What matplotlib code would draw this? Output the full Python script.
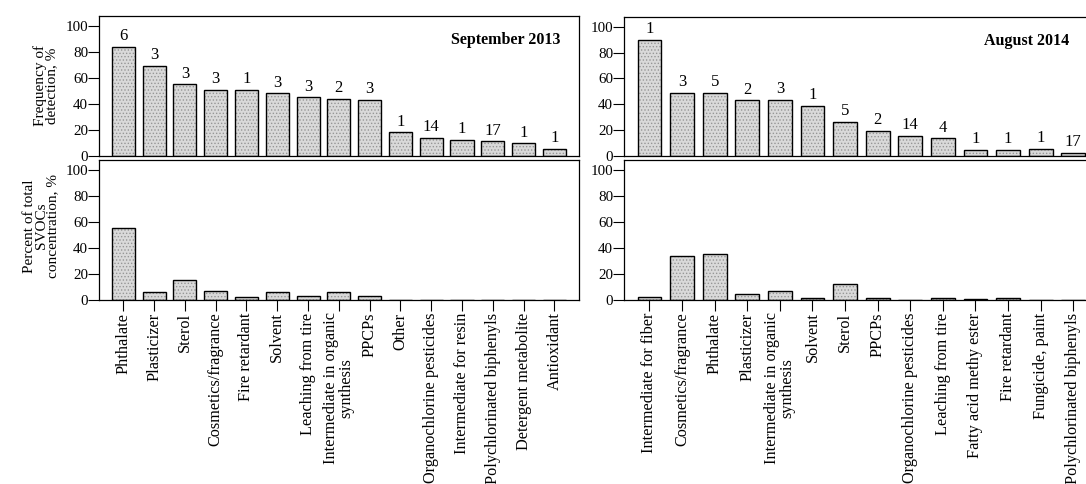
import matplotlib.pyplot as plt
import numpy as np

plt.rcParams['font.family'] = ['Liberation Serif', 'DejaVu Serif']
plt.rcParams['hatch.linewidth'] = 0.6

# September 2013
sep_cats = ['Phthalate', 'Plasticizer', 'Sterol', 'Cosmetics/fragrance', 'Fire retardant',
            'Solvent', 'Leaching from tire', 'Intermediate in organic\nsynthesis', 'PPCPs',
            'Other', 'Organochlorine pesticides', 'Intermediate for resin',
            'Polychlorinated biphenyls', 'Detergent metabolite', 'Antioxidant']
sep_freq = [84, 69, 55, 51, 51, 48, 45, 44, 43, 18, 13.5, 12, 11, 9.5, 5]
sep_n = ['6', '3', '3', '3', '1', '3', '3', '2', '3', '1', '14', '1', '17', '1', '1']
sep_pct = [55.3, 6, 15.5, 7, 2.3, 6, 2.8, 6, 2.8, 0.2, 0.2, 0.2, 0.2, 0.2, 0.2]

# August 2014
aug_cats = ['Intermediate for fiber', 'Cosmetics/fragrance', 'Phthalate', 'Plasticizer',
            'Intermediate in organic\nsynthesis', 'Solvent', 'Sterol', 'PPCPs',
            'Organochlorine pesticides', 'Leaching from tire', 'Fatty acid methy ester',
            'Fire retardant', 'Fungicide, paint', 'Polychlorinated biphenyls']
aug_freq = [90, 49, 48.5, 43, 43.5, 38.5, 26, 19.5, 15.5, 13.5, 4.6, 4.6, 5, 2.3]
aug_n = ['1', '3', '5', '2', '3', '1', '5', '2', '14', '4', '1', '1', '1', '17']
aug_pct = [2.6, 34.1, 35.4, 4.7, 7.2, 1.8, 12.4, 1.3, 0.3, 1.3, 0.5, 1.3, 0.3, 0.3]

W, H = 1086, 484
fig = plt.figure(figsize=(W / 100, H / 100), dpi=100)


def px(x0, y0, x1, y1):
    return [x0 / W, 1 - y1 / H, (x1 - x0) / W, (y1 - y0) / H]


def draw_bars(ax, vals, width):
    x = np.arange(len(vals))
    ax.bar(x, vals, width=width, color='#d9d9d9', edgecolor='#969696', hatch='.....',
           linewidth=0, zorder=2)
    ax.bar(x, vals, width=width, fill=False, edgecolor='black', linewidth=1.0, zorder=3)
    return x


def style(ax, xlim, ylim):
    ax.set_xlim(*xlim)
    ax.set_ylim(*ylim)
    ax.set_yticks([0, 20, 40, 60, 80, 100])
    ax.tick_params(axis='y', direction='out', length=8, width=0.8, pad=0, labelsize=10.8)
    for s in ax.spines.values():
        s.set_linewidth(0.9)


panels = [
    (sep_cats, sep_freq, sep_n, sep_pct, 'September 2013', 99.3, 579.3, 16, 0.75, (-0.78, 14.81), True),
    (aug_cats, aug_freq, aug_n, aug_pct, 'August 2014', 624.3, 1088, 17, 0.73, (-0.77, 13.45), False),
]

for cats, freq, n, pct, title, x0, x1, ytop, bw, xlim, ylab in panels:
    ax1 = fig.add_axes(px(x0, ytop, x1, 155.7))
    x = draw_bars(ax1, freq, bw)
    style(ax1, xlim, (0, 107.7))
    ax1.set_xticks([])
    for xi, v, lab in zip(x, freq, n):
        ax1.annotate(lab, (xi, v), xytext=(0, 2), textcoords='offset points',
                     ha='center', va='bottom', fontsize=12)
    ax1.text(1 - 19 / (x1 - x0), 0.8, title, transform=ax1.transAxes, ha='right',
             va='baseline', fontsize=11.5, fontweight='bold')

    ax2 = fig.add_axes(px(x0, 160, x1, 300))
    x = draw_bars(ax2, pct, bw)
    style(ax2, xlim, (0, 108))
    ax2.set_xticks(x)
    ax2.set_xticklabels(cats, rotation=90, ha='center', va='top', fontsize=11.7,
                        linespacing=0.9)
    ax2.tick_params(axis='x', direction='out', length=8, width=0.8, pad=1)

    if ylab:
        fig.text(46 / W, 1 - 86 / H, 'Frequency of\ndetection, %', rotation=90,
                 ha='center', va='center', fontsize=11, linespacing=0.85)
        fig.text(41 / W, 1 - 226 / H, 'Percent of total\nSVOCs\nconcentration, %',
                 rotation=90, ha='center', va='center', fontsize=11, linespacing=0.85)

fig.savefig('out.png', dpi=100)
